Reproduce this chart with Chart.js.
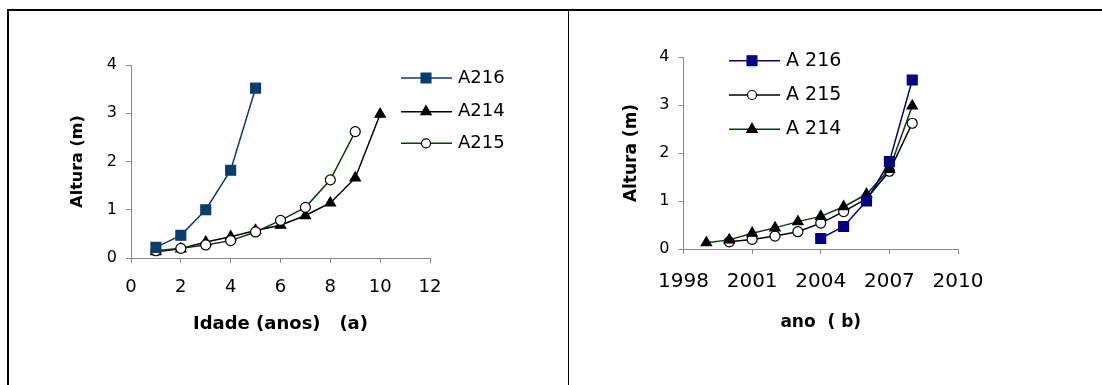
<!DOCTYPE html>
<html>
<head>
<meta charset="utf-8">
<script src="https://cdn.jsdelivr.net/npm/chart.js@4.4.1/dist/chart.umd.min.js"></script>
<style>
  body { margin: 0; background: #fff; }
  #wrap { position: relative; width: 1102px; height: 385px; overflow: hidden; }
  canvas { position: absolute; top: 0; }
  .rule { position: absolute; background: #000; }
</style>
</head>
<body>
<div id="wrap">
  <canvas id="chartA" width="568" height="385" style="left:0"></canvas>
  <canvas id="chartB" width="534" height="385" style="left:568px"></canvas>
  <div class="rule" style="left:7px; top:9px; width:1095px; height:2px"></div>
  <div class="rule" style="left:7px; top:9px; width:2px; height:376px"></div>
  <div class="rule" style="left:568px; top:10px; width:1px; height:375px"></div>
</div>
<script>
// idade (anos) de cada planta
var idadeA216 = [1, 2, 3, 4, 5];
var idadeA214 = [1, 2, 3, 4, 5, 6, 7, 8, 9, 10];
var idadeA215 = [1, 2, 3, 4, 5, 6, 7, 8, 9];
// mesmo dado por ano
var anoA216 = [2004, 2005, 2006, 2007, 2008];
var anoA214 = [1999, 2000, 2001, 2002, 2003, 2004, 2005, 2006, 2007, 2008];
var anoA215 = [2000, 2001, 2002, 2003, 2004, 2005, 2006, 2007, 2008];
// altura (m)
var alturaA216 = [0.22, 0.47, 1.0, 1.82, 3.52];
var alturaA214 = [0.13, 0.19, 0.33, 0.44, 0.57, 0.68, 0.88, 1.14, 1.66, 2.98];
var alturaA215 = [0.15, 0.2, 0.27, 0.36, 0.54, 0.78, 1.05, 1.62, 2.62];

var yTicks = [0, 1, 2, 3, 4];
var xTicksA = [0, 2, 4, 6, 8, 10, 12];
var xTicksB = [1998, 2001, 2004, 2007, 2010];

var FONT = "'DejaVu Sans'";
var AXIS = '#868686';

function toPoints(xs, ys) {
    let arr = [];
    for (let i = 0; i < ys.length; i++) {
        arr.push({x: xs[i], y: ys[i]});
    }
    return arr;
}

function serie(label, xs, ys, line, style, fill, radius, order) {
    return {
        label: label,
        data: toPoints(xs, ys),
        borderColor: line,
        borderWidth: 1.5,
        pointStyle: style,
        pointRadius: radius,
        pointHoverRadius: radius,
        pointBackgroundColor: fill,
        pointBorderColor: style == 'circle' ? '#000' : fill,
        pointBorderWidth: 1.2,
        tension: 0,
        order: order,
        clip: false
    };
}

// legenda desenhada ao lado com linha + marcador
var sideLegend = {
    id: 'sideLegend',
    afterDraw(chart, args, opts) {
        let ctx = chart.ctx;
        opts.show.forEach((idx, i) => {
            let ds = chart.data.datasets[idx];
            let y = opts.rows[i];
            ctx.save();
            ctx.strokeStyle = ds.borderColor;
            ctx.lineWidth = 1.5;
            ctx.beginPath();
            ctx.moveTo(opts.x1, y);
            ctx.lineTo(opts.x2, y);
            ctx.stroke();
            ctx.fillStyle = ds.pointBackgroundColor;
            ctx.strokeStyle = ds.pointBorderColor;
            ctx.lineWidth = 1.2;
            let r = ds.pointStyle == 'circle' ? 4.5 : ds.pointRadius;
            Chart.helpers.drawPoint(ctx, {pointStyle: ds.pointStyle, rotation: 0, radius: r, borderWidth: 1.2}, opts.mx, y);
            ctx.fillStyle = '#000';
            ctx.font = opts.size + 'px ' + FONT;
            ctx.textBaseline = 'middle';
            ctx.textAlign = 'left';
            ctx.fillText(opts.names ? opts.names[i] : ds.label, opts.tx, y);
            ctx.restore();
        });
    }
};

function makeChart(canvas, datasets, p) {
    return new Chart(canvas, {
        type: 'line',
        data: { datasets: datasets },
        plugins: [sideLegend],
        options: {
            responsive: false,
            animation: false,
            events: [],
            layout: { padding: { left: 0, right: p.padRight, top: p.top, bottom: 0 } },
            plugins: {
                legend: { display: false },
                tooltip: { enabled: false },
                sideLegend: p.legend
            },
            scales: {
                x: {
                    type: 'linear',
                    min: p.xTicks[0],
                    max: p.xTicks[p.xTicks.length - 1],
                    afterBuildTicks: (s) => { s.ticks = p.xTicks.map(v => ({value: v})); },
                    afterFit: (s) => { s.height = p.xHeight; },
                    grid: { drawOnChartArea: false, tickLength: 5, color: AXIS },
                    border: { color: AXIS },
                    ticks: {
                        color: '#000',
                        padding: p.xPad,
                        maxRotation: 0,
                        font: { family: FONT, size: p.xSize },
                        callback: (v) => String(v)
                    },
                    title: {
                        display: true,
                        text: p.xTitle,
                        color: '#000',
                        font: { family: FONT, size: p.xTitleSize, weight: 'bold' },
                        padding: { top: p.xTitlePad, bottom: p.xTitlePad }
                    }
                },
                y: {
                    min: 0,
                    max: 4,
                    afterBuildTicks: (s) => { s.ticks = yTicks.map(v => ({value: v})); },
                    afterFit: (s) => { s.width = p.yWidth; },
                    grid: { drawOnChartArea: false, tickLength: 5, color: AXIS },
                    border: { color: AXIS },
                    ticks: {
                        color: '#000',
                        padding: p.yPad,
                        font: { family: FONT, size: 16 }
                    },
                    title: {
                        display: true,
                        text: 'Altura (m)',
                        color: '#000',
                        font: { family: FONT, size: p.yTitleSize, weight: 'bold' },
                        padding: { top: p.yTitlePad, bottom: p.yTitlePad }
                    }
                }
            }
        }
    });
}

// (a) por idade
makeChart(document.getElementById('chartA'), [
    serie('A216', idadeA216, alturaA216, '#0b3c6e', 'rect', '#0b3c6e', 7, 0),
    serie('A214', idadeA214, alturaA214, '#000000', 'triangle', '#000000', 6, 2),
    serie('A215', idadeA215, alturaA215, '#0a3a0a', 'circle', '#ffffff', 5, 1)
], {
    padRight: 138, top: 65, xHeight: 127, yWidth: 131,
    xTicks: xTicksA, xPad: 14, xSize: 18,
    xTitle: 'Idade (anos)   (a)', xTitleSize: 18, xTitlePad: 50,
    yPad: 9, yTitleSize: 16, yTitlePad: 68,
    legend: { show: [0, 1, 2], rows: [78, 111.7, 143.3], x1: 401, x2: 452, mx: 426, tx: 458, size: 18 }
});

// (b) por ano
makeChart(document.getElementById('chartB'), [
    serie('A216', anoA216, alturaA216, '#000080', 'rect', '#000080', 7, 0),
    serie('A215', anoA215, alturaA215, '#000000', 'circle', '#ffffff', 5, 2),
    serie('A214', anoA214, alturaA214, '#0a3a0a', 'triangle', '#000000', 6, 1)
], {
    padRight: 144, top: 57, xHeight: 136, yWidth: 115.5,
    xTicks: xTicksB, xPad: 16, xSize: 20,
    xTitle: 'ano  ( b)', xTitleSize: 17, xTitlePad: 52,
    yPad: 9, yTitleSize: 17, yTitlePad: 53,
    legend: { show: [0, 1, 2], rows: [60.7, 95, 129.3], x1: 161, x2: 212, mx: 184, tx: 218, size: 19,
              names: ['A 216', 'A 215', 'A 214'] }
});
</script>
</body>
</html>
